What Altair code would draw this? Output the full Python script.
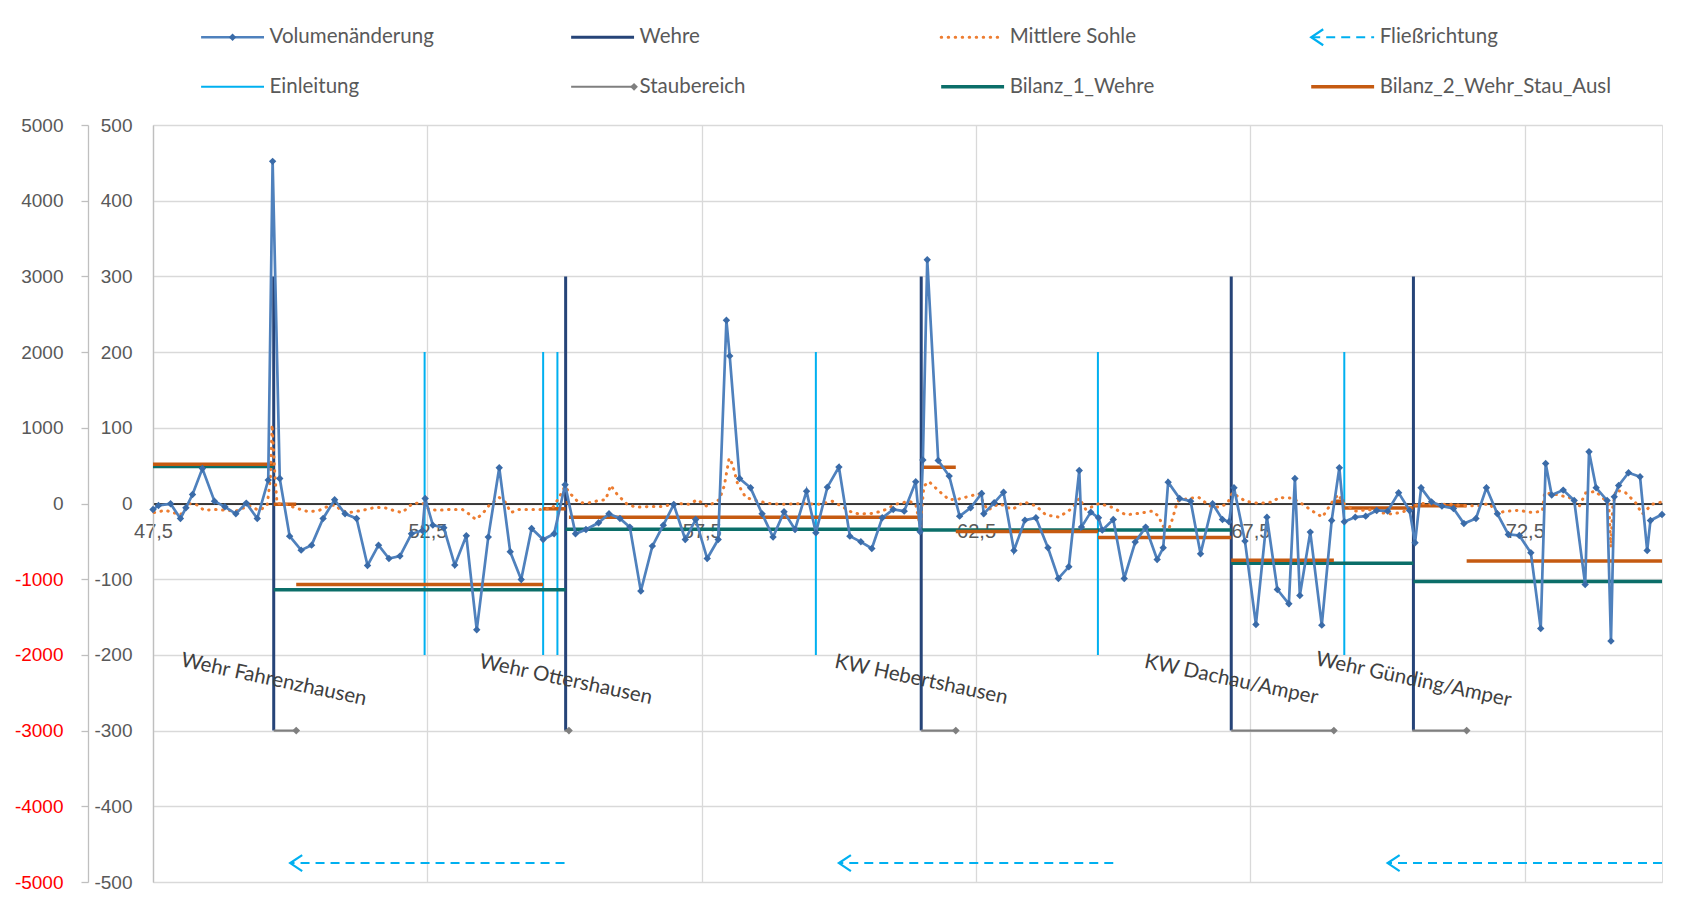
import altair as alt
import pandas as pd

# ---------------- data ----------------
# Volumenänderung (outer left axis, -5000..5000)
vol_km = [47.50, 47.60, 47.82, 48.00, 48.10, 48.22, 48.40, 48.62, 48.81, 49.01, 49.20, 49.40, 49.60, 49.68,
          49.81, 49.99, 50.20, 50.39, 50.60, 50.81, 51.00, 51.21, 51.41, 51.61, 51.80, 52.00, 52.21, 52.41,
          52.46, 52.60, 52.80, 53.00, 53.21, 53.40, 53.61, 53.81, 54.01, 54.21, 54.40, 54.61, 54.81, 55.01,
          55.20, 55.39, 55.62, 55.81, 56.01, 56.19, 56.39, 56.60, 56.80, 56.99, 57.20, 57.39, 57.60, 57.80,
          57.95, 58.01, 58.19, 58.39, 58.60, 58.80, 59.00, 59.20, 59.41, 59.58, 59.79, 60.00, 60.20, 60.40,
          60.60, 60.79, 60.99, 61.19, 61.40, 61.48, 61.53, 61.61, 61.81, 62.01, 62.20, 62.40, 62.60, 62.64,
          62.83, 63.00, 63.19, 63.39, 63.59, 63.81, 64.00, 64.19, 64.38, 64.42, 64.59, 64.73, 64.80, 65.00,
          65.20, 65.40, 65.59, 65.80, 65.91, 66.00, 66.21, 66.41, 66.59, 66.81, 66.99, 67.11, 67.20, 67.40,
          67.60, 67.80, 67.99, 68.20, 68.31, 68.40, 68.59, 68.80, 68.98, 69.12, 69.21, 69.41, 69.60, 69.80,
          70.00, 70.20, 70.40, 70.50, 70.61, 70.80, 70.99, 71.20, 71.39, 71.61, 71.80, 72.00, 72.20, 72.40,
          72.61, 72.79, 72.88, 72.99, 73.20, 73.40, 73.60, 73.67, 73.80, 74.00, 74.07, 74.13, 74.21, 74.39,
          74.60, 74.73, 74.79, 75.00]
vol_val = [-80, -26, -4, -198, -57, 119, 462, 31, -44, -136, 5, -198, 309, 4520,
           330, -431, -616, -550, -198, 49, -136, -198, -819, -550, -727, -695, -400, -357,
           66, -286, -321, -814, -427, -1668, -444, 472, -638, -1004, -330, -476, -400, 247,
           -400, -343, -255, -136, -198, -312, -1157, -563, -286, -13, -476, -211, -727, -476,
           2420, 1950, 330, 207, -136, -444, -110, -343, 163, -387, 216, 481, -431, -506,
           -594, -189, -79, -101, 287, -374, 575, 3220, 568, 362, -167, -57, 132, -136,
           9, 150, -621, -220, -189, -585, -990, -836, 436, -312, -114, -189, -352, -211,
           -990, -510, -312, -740, -585, 282, 66, 31, -665, -4, -211, -242, 207, -497,
           -1598, -180, -1136, -1325, 330, -1216, -378, -1607, -224, 472, -242, -180, -167, -92,
           -101, 141, -92, -519, 207, 22, -35, -66, -264, -198, 207, -136, -409, -423,
           -651, -1651, 528, 111, 177, 40, -1070, 683, 207, 40, -1818, 88, 238, 406,
           353, -621, -224, -145]

# Mittlere Sohle (inner left axis, -500..500)
sohle_km = [47.52, 47.73, 48.00, 48.16, 48.31, 48.43, 48.64, 49.01, 49.25, 49.43, 49.58, 49.64, 49.67, 49.72,
            49.76, 49.92, 50.10, 50.34, 50.53, 50.71, 50.83, 50.92, 51.07, 51.32, 51.56, 51.74, 51.92, 52.04,
            52.23, 52.41, 52.53, 52.71, 52.90, 53.14, 53.26, 53.38, 53.50, 53.62, 53.81, 53.93, 54.02, 54.17,
            54.41, 54.60, 54.78, 54.90, 55.01, 55.08, 55.26, 55.45, 55.63, 55.75, 55.84, 55.96, 56.14, 56.30,
            56.54, 56.78, 57.03, 57.27, 57.42, 57.60, 57.82, 57.91, 58.00, 58.06, 58.15, 58.30, 58.48, 58.73,
            58.97, 59.33, 59.64, 59.88, 60.06, 60.22, 60.37, 60.61, 60.79, 61.04, 61.28, 61.40, 61.48, 61.55,
            61.64, 61.83, 62.01, 62.19, 62.40, 62.55, 62.71, 62.92, 63.16, 63.37, 63.59, 63.77, 64.01, 64.26,
            64.38, 64.50, 64.74, 64.98, 65.23, 65.47, 65.71, 65.83, 65.90, 66.02, 66.08, 66.17, 66.38, 66.56,
            66.75, 66.93, 67.08, 67.17, 67.41, 67.66, 67.90, 68.02, 68.26, 68.45, 68.63, 68.81, 68.99, 69.10,
            69.20, 69.42, 69.66, 69.84, 70.09, 70.33, 70.48, 70.63, 70.88, 71.18, 71.42, 71.67, 71.85, 72.00,
            72.21, 72.39, 72.64, 72.82, 72.86, 73.06, 73.31, 73.49, 73.61, 73.79, 73.94, 74.03, 74.07, 74.10,
            74.16, 74.34, 74.52, 74.64, 74.82, 75.00]
sohle_val = [-12, -9, -15, 0, -2, -9, -8, -10, -3, -9, -3, 34, 104, 40,
             0, -1, -6, -11, -9, -3, -2, -9, -12, -9, -5, -6, -10, -12,
             0, 1, -8, -9, -8, -8, -14, -21, -14, -3, 8, 1, -12, -8,
             -8, -8, -6, 8, 23, 15, 1, 1, 4, 5, 24, 12, -1, -5,
             -4, -4, 0, -1, 5, -4, 5, 23, 60, 52, 27, 8, 4, 0,
             -1, 0, -1, 3, -4, -11, -14, -13, -10, -1, 3, -1, -30, 23,
             29, 16, 5, 6, 10, 13, -9, 0, -8, 2, -3, -15, -18, -6,
             7, -8, 0, -5, -15, -13, -10, -17, -30, -32, -20, 3, 7, 8,
             -3, -5, 0, 14, 3, 0, 2, 8, 7, -1, -10, -18, 2, 12,
             0, -10, -8, -12, -14, -10, -3, 0, -1, -1, -3, -3, 0, -12,
             -10, -9, -12, -10, 14, 12, 8, -4, 14, 16, 6, -1, -58, -6,
             18, 14, 1, -14, -1, 2]

# Wehre
weir_km = [49.70, 55.02, 61.50, 67.15, 70.47]
weir_names = ["Wehr Fahrenzhausen", "Wehr Ottershausen", "KW Hebertshausen",
              "KW Dachau/Amper", "Wehr Günding/Amper"]
weir_top = [300, 300, 300, 300, 300]
weir_bottom = [-300, -300, -300, -300, -300]
weir_label_y = [-233, -233, -233, -233, -233]

# Staubereich
stau_start = [49.70, 55.00, 61.50, 67.15, 70.45]
stau_end = [50.11, 55.08, 62.13, 69.02, 71.44]
stau_level = [-300, -300, -300, -300, -300]

# Einleitung
einl_km = [52.45, 54.61, 54.87, 59.58, 64.72, 69.21]
einl_top = [200, 200, 200, 200, 200, 200]
einl_bottom = [-200, -200, -200, -200, -200, -200]

# Bilanz_1_Wehre
bil1_from = [47.50, 49.70, 55.02, 61.50, 67.15, 70.47]
bil1_to = [49.70, 55.02, 61.50, 67.15, 70.47, 75.00]
bil1_val = [49, -114, -34, -35, -79, -103]

# Bilanz_2_Wehr_Stau_Ausl
bil2_from = [47.50, 49.70, 50.11, 54.61, 55.02, 55.08, 61.50, 62.13, 64.72, 67.15, 69.02, 69.21, 70.47, 71.44]
bil2_to = [49.70, 50.11, 54.61, 55.02, 55.08, 61.50, 62.13, 64.72, 67.15, 69.02, 69.21, 70.47, 71.44, 75.00]
bil2_val = [52, -1, -107, -7, 1, -18, 48, -37, -45, -75, 3, -6, -3, -76]

# Fließrichtung
flow_from = [55.0, 65.0, 75.0]
flow_to = [50.0, 60.0, 70.0]
flow_level = [-475, -475, -475]

# Legend
legend_names = ["Volumenänderung", "Wehre", "Mittlere Sohle", "Fließrichtung",
                "Einleitung", "Staubereich", "Bilanz_1_Wehre", "Bilanz_2_Wehr_Stau_Ausl"]
legend_col = [0, 1, 2, 3, 0, 1, 2, 3]
legend_row = [0, 0, 0, 0, 1, 1, 1, 1]

x_ticks = [47.5, 52.5, 57.5, 62.5, 67.5, 72.5]
inner_ticks = [-500, -400, -300, -200, -100, 0, 100, 200, 300, 400, 500]
outer_ticks = [-5000, -4000, -3000, -2000, -1000, 0, 1000, 2000, 3000, 4000, 5000]

# ---------------- styling ----------------
FONT = "Lato"
W, H = 1509, 757
C_VOL = "#4F81BD"
C_VOL_PT = "#3A6BA8"
C_WEHR = "#264478"
C_SOHLE = "#ED7D31"
C_FLOW = "#00B0F0"
C_EINL = "#00B0F0"
C_STAU = "#7F7F7F"
C_B1 = "#0B6E69"
C_B2 = "#C55A11"
GRID = "#D9D9D9"
TXT = "#595959"
ARROW = "M1.5,-1L0,0L1.5,1"

xs = alt.Scale(domain=[47.5, 75.0], nice=False, zero=False)
ys_in = alt.Scale(domain=[-500, 500], nice=False, zero=False)
ys_out = alt.Scale(domain=[-5000, 5000], nice=False, zero=False)

x_axis = alt.Axis(values=x_ticks, grid=True, gridColor=GRID, gridWidth=1.3,
                  domainColor="#000000", domainWidth=1.6, ticks=False,
                  offset=-H / 2, labelExpr="replace(format(datum.value, '.1f'), '.', ',')",
                  labelFontSize=20, labelColor=TXT, labelPadding=18,
                  labelFlush=False, labelOverlap=False, title=None)

inner_axis = alt.Axis(values=inner_ticks, grid=True, gridColor=GRID, gridWidth=1.3,
                      domainColor="#BFBFBF", domainWidth=1.3, ticks=False,
                      labelExpr="'' + datum.value",
                      labelPadding=21, labelFontSize=19, labelColor=TXT,
                      orient="left", offset=0, title=None)

outer_axis = alt.Axis(values=outer_ticks, grid=False, domainColor="#BFBFBF", domainWidth=1.3,
                      tickColor="#BFBFBF", tickWidth=1.3, tickSize=7, labelPadding=18,
                      labelFontSize=19, labelExpr="'' + datum.value",
                      labelColor={"condition": {"test": "datum.value < 0", "value": "#FF0000"},
                                  "value": TXT},
                      orient="left", offset=65, title=None)


def X(field):
    return alt.X(field, type="quantitative", scale=xs, axis=x_axis)


def Yin(field):
    return alt.Y(field, type="quantitative", scale=ys_in, axis=inner_axis)


# ---------------- main chart layers ----------------
weir_df = pd.DataFrame({"km": weir_km, "name": weir_names, "top": weir_top,
                        "bottom": weir_bottom, "ly": weir_label_y})
stau_df = pd.DataFrame({"a": stau_start, "b": stau_end, "y": stau_level})
einl_df = pd.DataFrame({"km": einl_km, "top": einl_top, "bottom": einl_bottom})
b1_df = pd.DataFrame({"a": bil1_from, "b": bil1_to, "y": bil1_val})
b2_df = pd.DataFrame({"a": bil2_from, "b": bil2_to, "y": bil2_val})
sohle_df = pd.DataFrame({"km": sohle_km, "y": sohle_val})
flow_df = pd.DataFrame({"a": flow_from, "b": flow_to, "y": flow_level})
vol_df = pd.DataFrame({"km": vol_km, "v": vol_val})

einl = alt.Chart(einl_df).mark_rule(color=C_EINL, strokeWidth=2).encode(
    x=X("km"), y=Yin("bottom"), y2="top")
wehre = alt.Chart(weir_df).mark_rule(color=C_WEHR, strokeWidth=3).encode(
    x=X("km"), y=Yin("bottom"), y2="top")
stau = alt.Chart(stau_df).mark_rule(color=C_STAU, strokeWidth=2.2).encode(
    x=X("a"), x2="b", y=Yin("y"))
stau_pt = alt.Chart(stau_df).mark_point(shape="diamond", filled=True, size=60, color=C_STAU,
                                        opacity=1).encode(x=X("b"), y=Yin("y"))
b1 = alt.Chart(b1_df).mark_rule(color=C_B1, strokeWidth=3.5).encode(x=X("a"), x2="b", y=Yin("y"))
b2 = alt.Chart(b2_df).mark_rule(color=C_B2, strokeWidth=3.5).encode(x=X("a"), x2="b", y=Yin("y"))
sohle = alt.Chart(sohle_df).mark_line(color=C_SOHLE, strokeWidth=3, strokeDash=[0.5, 6.5],
                                      strokeCap="round").encode(x=X("km"), y=Yin("y"))
flow = alt.Chart(flow_df).mark_rule(color=C_FLOW, strokeWidth=2, strokeDash=[9, 6]).encode(
    x=X("a"), x2="b", y=Yin("y"))
flow_head = alt.Chart(flow_df).mark_point(shape=ARROW, filled=False, size=256, color=C_FLOW,
                                          strokeWidth=2.2, opacity=1).encode(x=X("b"), y=Yin("y"))
weir_lbl = alt.Chart(weir_df).mark_text(angle=12, align="center", baseline="middle",
                                        font=FONT, fontSize=20.5, color="#404040").encode(
    x=X("km"), y=Yin("ly"), text="name:N")

inner_layer = alt.layer(einl, wehre, stau, stau_pt, b1, b2, sohle, flow, flow_head, weir_lbl)

vol_line = alt.Chart(vol_df).mark_line(color=C_VOL, strokeWidth=2.7).encode(
    x=X("km"), y=alt.Y("v:Q", scale=ys_out, axis=outer_axis))
vol_pts = alt.Chart(vol_df).mark_point(shape="diamond", filled=True, size=55, color=C_VOL_PT,
                                       opacity=1).encode(
    x=X("km"), y=alt.Y("v:Q", scale=ys_out, axis=outer_axis))
outer_layer = alt.layer(vol_line, vol_pts)

main = alt.layer(inner_layer, outer_layer).resolve_scale(y="independent").properties(
    width=W, height=H)

# ---------------- legend panel ----------------
leg_df = pd.DataFrame({"name": legend_names, "c": legend_col, "r": legend_row})
lx = alt.Scale(domain=[-0.13, 3.948], nice=False, zero=False)
ly = alt.Scale(domain=[-0.49, 1.53], reverse=True, nice=False, zero=False)
SYM = 0.17


def leg_base(name):
    return alt.Chart(leg_df).transform_filter(alt.datum.name == name).transform_calculate(
        x0="datum.c", x1="datum.c + %f" % SYM, xm="datum.c + %f" % (SYM / 2))


def leg_rule(name, **kw):
    return leg_base(name).mark_rule(**kw).encode(
        x=alt.X("x0:Q", scale=lx, axis=None), x2="x1:Q", y=alt.Y("r:Q", scale=ly, axis=None))


def leg_point(name, xfield, **kw):
    return leg_base(name).mark_point(opacity=1, **kw).encode(
        x=alt.X(xfield + ":Q", scale=lx, axis=None), y=alt.Y("r:Q", scale=ly, axis=None))


legend_layers = [
    leg_rule("Volumenänderung", color=C_VOL, strokeWidth=2.7),
    leg_point("Volumenänderung", "xm", shape="diamond", filled=True, size=55, color=C_VOL_PT),
    leg_rule("Wehre", color=C_WEHR, strokeWidth=3),
    leg_rule("Mittlere Sohle", color=C_SOHLE, strokeWidth=3, strokeDash=[0.5, 6.5], strokeCap="round"),
    leg_rule("Fließrichtung", color=C_FLOW, strokeWidth=2, strokeDash=[9, 6]),
    leg_point("Fließrichtung", "x0", shape=ARROW, filled=False, size=256, color=C_FLOW, strokeWidth=2.2),
    leg_rule("Einleitung", color=C_EINL, strokeWidth=2),
    leg_rule("Staubereich", color=C_STAU, strokeWidth=2.2),
    leg_point("Staubereich", "x1", shape="diamond", filled=True, size=60, color=C_STAU),
    leg_rule("Bilanz_1_Wehre", color=C_B1, strokeWidth=3.5),
    leg_rule("Bilanz_2_Wehr_Stau_Ausl", color=C_B2, strokeWidth=3.5),
]
leg_text = alt.Chart(leg_df).transform_calculate(xt="datum.c + 0.185").mark_text(
    align="left", baseline="middle", font=FONT, fontSize=20.5, color=TXT).encode(
    x=alt.X("xt:Q", scale=lx, axis=None), y=alt.Y("r:Q", scale=ly, axis=None), text="name:N")

legend = alt.layer(*legend_layers, leg_text).properties(
    width=W, height=100, view=alt.ViewConfig(stroke="transparent", strokeWidth=0))

chart = alt.vconcat(legend, main, spacing=2).configure_view(
    stroke="transparent", strokeWidth=0).configure_axis(labelFont=FONT).configure(background="white")

chart.save("out.html", embed_options={"renderer": "svg", "actions": False})
